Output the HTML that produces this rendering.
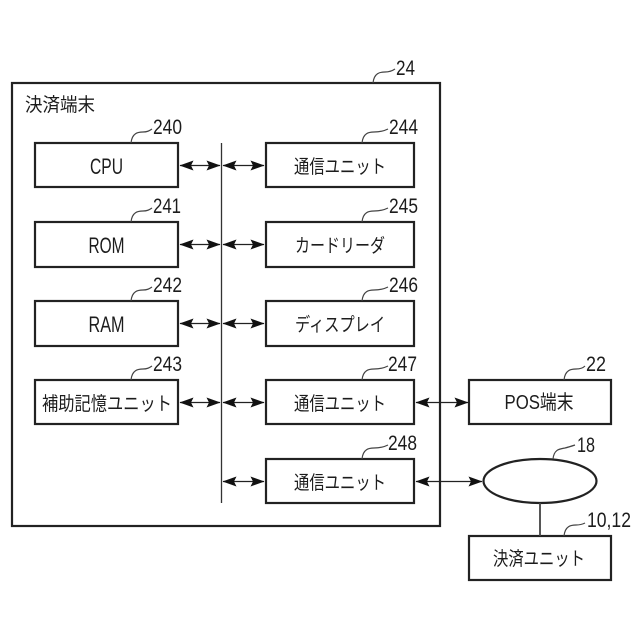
<!DOCTYPE html>
<html><head><meta charset="utf-8"><style>html,body{margin:0;padding:0;background:#fff}svg{display:block}text{font-family:"Liberation Sans","Noto Sans CJK JP",sans-serif;fill:#1c1c1c}.l{font-size:19px}.n{font-size:21px}.b{font-size:19px;text-anchor:middle}</style></head><body>
<svg width="640" height="640" viewBox="0 0 640 640" xmlns="http://www.w3.org/2000/svg">
<defs>
<marker id="a" viewBox="0 0 14 10" refX="13.500" refY="5" markerWidth="14" markerHeight="10" markerUnits="userSpaceOnUse" orient="auto-start-reverse"><path d="M0 0L14 5L0 10L2.500 5Z" fill="#111"/></marker>
</defs>
<g fill="#fff" stroke="#222" stroke-width="2.2">
<rect x="12" y="83" width="428" height="443"/>
<rect x="35" y="143" width="143" height="44"/><rect x="35" y="222" width="143" height="45"/><rect x="35" y="301" width="143" height="45"/><rect x="35" y="380" width="143" height="44"/>
<rect x="266" y="143" width="148" height="44"/><rect x="266" y="222" width="148" height="45"/><rect x="266" y="301" width="148" height="45"/><rect x="266" y="380" width="148" height="44"/><rect x="266" y="459" width="148" height="44"/>
<rect x="469" y="380" width="142" height="44"/><rect x="469" y="536" width="142" height="44"/>
<ellipse cx="540" cy="481" rx="56.500" ry="22"/>
</g>
<path d="M221.500 143V503" stroke="#333" stroke-width="1.300" fill="none"/>
<path d="M540 503V536" stroke="#444" stroke-width="1.800" fill="none"/>
<g stroke="#222" stroke-width="1.200" fill="none">
<path d="M180 165.500H220" marker-start="url(#a)" marker-end="url(#a)"/><path d="M223 165.500H264" marker-start="url(#a)" marker-end="url(#a)"/>
<path d="M180 244.500H220" marker-start="url(#a)" marker-end="url(#a)"/><path d="M223 244.500H264" marker-start="url(#a)" marker-end="url(#a)"/>
<path d="M180 323.500H220" marker-start="url(#a)" marker-end="url(#a)"/><path d="M223 323.500H264" marker-start="url(#a)" marker-end="url(#a)"/>
<path d="M180 402.500H220" marker-start="url(#a)" marker-end="url(#a)"/><path d="M223 402.500H264" marker-start="url(#a)" marker-end="url(#a)"/>
<path d="M223 481.500H264" marker-start="url(#a)" marker-end="url(#a)"/>
<path d="M416 402.500H468" marker-start="url(#a)" marker-end="url(#a)"/>
<path d="M416 481.500H482" marker-start="url(#a)" marker-end="url(#a)"/>
</g>
<g stroke="#444" stroke-width="1.200" fill="none">
<path d="M131 143C132 133 138 132 143 132C147 132 149 131 152 129"/>
<path d="M131 222C132 212 138 211 143 211C147 211 149 210 152 208"/>
<path d="M131 301C132 291 138 290 143 290C147 290 149 289 152 287"/>
<path d="M131 380C132 370 138 369 143 369C147 369 149 368 152 366"/>
<path d="M362 143C363 133 369 132 374 132C379 132 384 131 388 129"/>
<path d="M362 222C363 212 369 211 374 211C379 211 384 210 388 208"/>
<path d="M362 301C363 291 369 290 374 290C379 290 384 289 388 287"/>
<path d="M362 380C363 370 369 369 374 369C379 369 384 368 388 366"/>
<path d="M362 459C363 449 369 448 374 448C379 448 384 447 388 445"/>
<path d="M373 83C374 73 380 72 385 72C389 72 392 71 395 69"/>
<path d="M564 380C565 370 571 369 576 369C580 369 583 368 585 366"/>
<path d="M553 459C554 449 560 449 565 448C569 447 572 446 575 445"/>
<path d="M564 536C565 526 571 525 576 525C580 525 583 524 585 523"/>
</g>
<text x="25" y="111" class="l" textLength="70" lengthAdjust="spacingAndGlyphs">決済端末</text>
<g class="n">
<text x="153" y="134" textLength="29" lengthAdjust="spacingAndGlyphs">240</text>
<text x="153" y="213" textLength="28" lengthAdjust="spacingAndGlyphs">241</text>
<text x="153" y="292" textLength="29" lengthAdjust="spacingAndGlyphs">242</text>
<text x="153" y="371" textLength="29" lengthAdjust="spacingAndGlyphs">243</text>
<text x="389" y="134" textLength="29" lengthAdjust="spacingAndGlyphs">244</text>
<text x="389" y="213" textLength="29" lengthAdjust="spacingAndGlyphs">245</text>
<text x="389" y="292" textLength="29" lengthAdjust="spacingAndGlyphs">246</text>
<text x="388" y="371" textLength="29" lengthAdjust="spacingAndGlyphs">247</text>
<text x="388" y="450" textLength="29" lengthAdjust="spacingAndGlyphs">248</text>
<text x="396" y="75" textLength="19" lengthAdjust="spacingAndGlyphs">24</text>
<text x="586" y="371" textLength="20" lengthAdjust="spacingAndGlyphs">22</text>
<text x="577" y="452" textLength="18" lengthAdjust="spacingAndGlyphs">18</text>
<text x="587" y="527" textLength="44" lengthAdjust="spacingAndGlyphs">10,12</text>
</g>
<g class="b">
<text x="106.500" y="174" textLength="33" lengthAdjust="spacingAndGlyphs" style="font-size:22px">CPU</text>
<text x="106.500" y="253" textLength="36" lengthAdjust="spacingAndGlyphs" style="font-size:22px">ROM</text>
<text x="106.500" y="332" textLength="36" lengthAdjust="spacingAndGlyphs" style="font-size:22px">RAM</text>
<text x="107" y="410" textLength="130" lengthAdjust="spacingAndGlyphs">補助記憶ユニット</text>
<text x="340" y="173" textLength="92" lengthAdjust="spacingAndGlyphs">通信ユニット</text>
<text x="340" y="252" textLength="90" lengthAdjust="spacingAndGlyphs">カードリーダ</text>
<text x="340" y="331" textLength="90" lengthAdjust="spacingAndGlyphs">ディスプレイ</text>
<text x="340" y="410" textLength="92" lengthAdjust="spacingAndGlyphs">通信ユニット</text>
<text x="340" y="489" textLength="92" lengthAdjust="spacingAndGlyphs">通信ユニット</text>
<text x="539" y="409" textLength="69" lengthAdjust="spacingAndGlyphs" style="font-size:20px">POS端末</text>
<text x="539" y="565" textLength="92" lengthAdjust="spacingAndGlyphs">決済ユニット</text>
</g>
</svg>
</body></html>
